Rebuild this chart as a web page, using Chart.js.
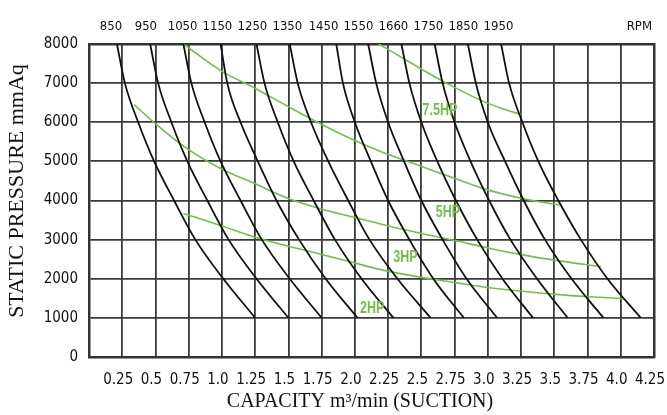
<!DOCTYPE html>
<html><head><meta charset="utf-8">
<script src="https://cdn.jsdelivr.net/npm/chart.js@4.4.1/dist/chart.umd.min.js"></script>
<style>html,body{margin:0;padding:0;background:#fff}</style>
</head><body>
<canvas id="c" width="667" height="415"></canvas>
<script>
// ---- data ----
const pressureLevels = [8000, 7000, 6000, 5000, 4000, 3000, 2000, 1000];
const rpmNames = ['850','950','1050','1150','1250','1350','1450','1550','1660','1750','1850','1950'];
const rpm850  = [0.21, 0.27, 0.37, 0.49, 0.64, 0.80, 1.01, 1.25];
const rpm950  = [0.46, 0.52, 0.62, 0.74, 0.89, 1.05, 1.26, 1.50];
const rpm1050 = [0.71, 0.77, 0.87, 0.99, 1.14, 1.30, 1.51, 1.75];
const rpm1150 = [0.99, 1.04, 1.14, 1.27, 1.41, 1.58, 1.78, 2.02];
const rpm1250 = [1.26, 1.32, 1.42, 1.54, 1.69, 1.85, 2.05, 2.29];
const rpm1350 = [1.51, 1.57, 1.67, 1.80, 1.95, 2.11, 2.32, 2.57];
const rpm1450 = [1.86, 1.91, 2.00, 2.12, 2.25, 2.41, 2.59, 2.82];
const rpm1550 = [2.10, 2.16, 2.25, 2.37, 2.50, 2.66, 2.84, 3.07];
const rpm1660 = [2.35, 2.41, 2.50, 2.62, 2.76, 2.92, 3.11, 3.34];
const rpm1750 = [2.60, 2.66, 2.75, 2.87, 3.01, 3.17, 3.37, 3.60];
const rpm1850 = [2.85, 2.91, 3.00, 3.13, 3.27, 3.43, 3.63, 3.87];
const rpm1950 = [3.10, 3.16, 3.26, 3.38, 3.53, 3.70, 3.90, 4.15];
const rpmCurves = [rpm850, rpm950, rpm1050, rpm1150, rpm1250, rpm1350, rpm1450, rpm1550, rpm1660, rpm1750, rpm1850, rpm1950];

const hp75Q = [2.18, 2.37, 2.52, 2.66, 2.82, 2.96, 3.10, 3.25];
const hp75P = [8000, 7620, 7320, 7050, 6770, 6540, 6360, 6200];
const hp5Q  = [0.71, 1.00, 1.23, 1.50, 1.73, 1.95, 2.18, 2.38, 2.69, 2.96, 3.26, 3.54];
const hp5P  = [8000, 7300, 6900, 6400, 5980, 5610, 5270, 5020, 4640, 4310, 4050, 3880];
const hp3Q  = [0.34, 0.49, 0.71, 1.00, 1.23, 1.50, 1.76, 2.01, 2.26, 2.51, 2.76, 3.01, 3.26, 3.51, 3.85];
const hp3P  = [6450, 5990, 5390, 4800, 4460, 4050, 3770, 3560, 3340, 3150, 2970, 2780, 2610, 2470, 2310];
const hp2Q  = [0.71, 1.00, 1.25, 1.50, 1.73, 1.98, 2.21, 2.46, 2.76, 3.01, 3.26, 3.51, 3.76, 4.03];
const hp2P  = [3670, 3350, 3060, 2830, 2640, 2420, 2220, 2060, 1900, 1770, 1680, 1600, 1540, 1490];

const hpNames = ['7.5HP', '5HP', '3HP', '2HP'];
const hpLabelQ = [2.64, 2.70, 2.38, 2.13];
const hpLabelP = [6310, 3680, 2530, 1230];

const xTickLabels = ['', '0.25', '0.5', '0.75', '1.0', '1.25', '1.5', '1.75', '2.0', '2.25', '2.5', '2.75', '3.0', '3.25', '3.5', '3.75', '4.0', '4.25'];
const yTickLabels = ['0', '1000', '2000', '3000', '4000', '5000', '6000', '7000', '8000'];
const topLabels = ['850','950','1050','1150','1250','1350','1450','1550','1660','1750','1850','1950','RPM'];
const topLabelPos = [0.165, 0.428, 0.704, 0.966, 1.229, 1.492, 1.764, 2.027, 2.29, 2.553, 2.816, 3.08, 4.14];

const xTitle = 'CAPACITY m\u00B3/min (SUCTION)';
const yTitle = 'STATIC PRESSURE mmAq';

// ---- build ----
const NARROW = '"Liberation Sans Narrow", "DejaVu Sans Condensed", sans-serif';
const GREEN = '#72c04b';
const datasets = [];
rpmCurves.forEach((q, i) => {
  datasets.push({
    label: rpmNames[i] + ' RPM',
    data: q.map((v, k) => ({x: v, y: pressureLevels[k]})),
    borderColor: '#111', borderWidth: 1.8, pointRadius: 0,
    cubicInterpolationMode: 'monotone',
    xAxisID: 'x', yAxisID: 'y', fill: false
  });
});
[[hp75Q, hp75P], [hp5Q, hp5P], [hp3Q, hp3P], [hp2Q, hp2P]].forEach((pair, i) => {
  datasets.push({
    label: hpNames[i],
    data: pair[0].map((v, k) => ({x: v, y: pair[1][k]})),
    borderColor: GREEN, borderWidth: 1.6, pointRadius: 0,
    cubicInterpolationMode: 'monotone',
    xAxisID: 'x', yAxisID: 'y', fill: false
  });
});

const gridColor = '#3a3a3a';
const textPlugin = {
  id: 'textPlugin',
  afterDraw(chart) {
    const ctx = chart.ctx;
    const xs = chart.scales.x, ys = chart.scales.y;
    ctx.save();
    ctx.fillStyle = GREEN;
    ctx.font = 'bold 16px "Liberation Sans", Arial, sans-serif';
    ctx.textAlign = 'center';
    ctx.textBaseline = 'middle';
    hpNames.forEach((n, i) => {
      ctx.save();
      ctx.translate(xs.getPixelForValue(hpLabelQ[i]), ys.getPixelForValue(hpLabelP[i]));
      ctx.scale(0.78, 1);
      ctx.fillText(n, 0, 0);
      ctx.restore();
    });
    ctx.fillStyle = '#111';
    ctx.font = '20px "Liberation Serif", "DejaVu Serif", serif';
    ctx.fillText(xTitle, 360, 402);
    ctx.font = '22px "Liberation Serif", "DejaVu Serif", serif';
    ctx.translate(17, 191);
    ctx.rotate(-Math.PI / 2);
    ctx.fillText(yTitle, 0, 0);
    ctx.restore();
  }
};

const noPad = (s) => { s.paddingLeft = 0; s.paddingRight = 0; };

new Chart(document.getElementById('c'), {
  type: 'line',
  data: {datasets},
  options: {
    responsive: false, animation: false, devicePixelRatio: 1,
    layout: {padding: 0},
    plugins: {legend: {display: false}, tooltip: {enabled: false}},
    scales: {
      x: {
        type: 'linear', position: 'bottom', min: 0, max: 4.25,
        ticks: {stepSize: 0.25, autoSkip: false, maxRotation: 0, padding: 14, labelOffset: -4,
          color: '#111', font: {family: NARROW, size: 15},
          callback: (v) => xTickLabels[Math.round(v / 0.25)] ?? ''},
        grid: {color: gridColor, lineWidth: 1.8, drawTicks: false},
        border: {display: true, color: '#333', width: 2.5},
        afterFit: (s) => { s.height = 58; noPad(s); }
      },
      x2: {
        type: 'linear', position: 'top', min: 0, max: 4.25,
        afterBuildTicks: (s) => { s.ticks = topLabelPos.map(v => ({value: v})); },
        ticks: {autoSkip: false, maxRotation: 0, padding: 10, color: '#111',
          font: {family: NARROW, size: 13},
          callback: (v, i) => topLabels[i]},
        grid: {display: false, drawTicks: false},
        border: {display: true, color: '#333', width: 2.5},
        afterFit: (s) => { s.height = 44; noPad(s); }
      },
      y: {
        type: 'linear', position: 'left', min: 0, max: 8000,
        ticks: {stepSize: 1000, padding: 11, color: '#111', font: {family: NARROW, size: 15},
          callback: (v) => yTickLabels[Math.round(v / 1000)] ?? ''},
        grid: {color: gridColor, lineWidth: 1.8, drawTicks: false},
        border: {display: true, color: '#333', width: 2.5},
        afterFit: (s) => { s.width = 89; s.paddingTop = 0; s.paddingBottom = 0; }
      },
      y2: {
        type: 'linear', position: 'right', min: 0, max: 8000,
        ticks: {display: false},
        grid: {display: false, drawTicks: false},
        border: {display: true, color: '#333', width: 2.5},
        afterFit: (s) => { s.width = 13; s.paddingTop = 0; s.paddingBottom = 0; }
      }
    }
  },
  plugins: [textPlugin]
});
</script>
</body></html>
